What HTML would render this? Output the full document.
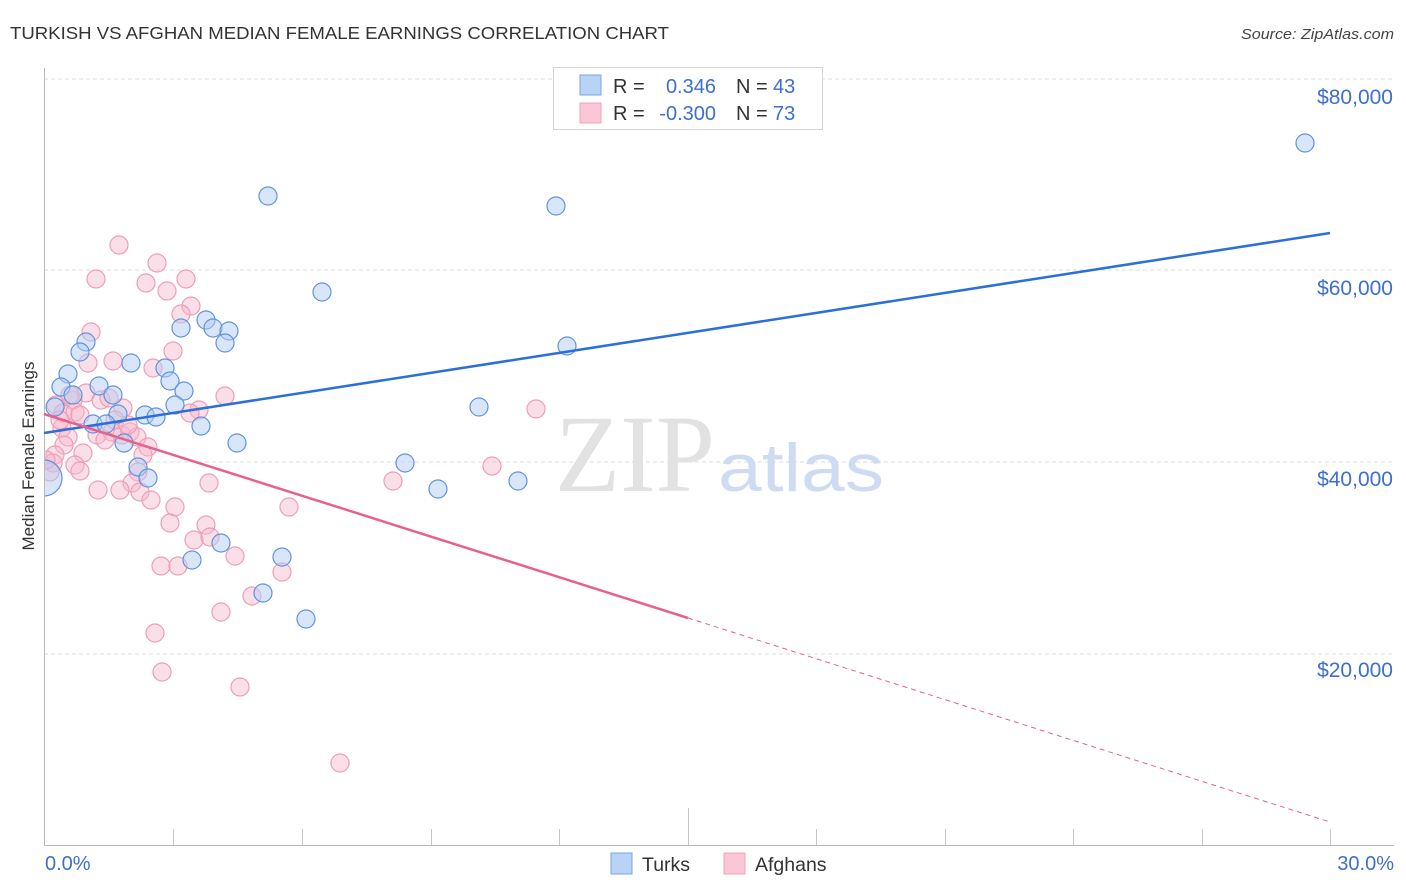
<!DOCTYPE html>
<html>
<head>
<meta charset="utf-8">
<style>
html,body{margin:0;padding:0;background:#fff;}
svg{display:block;}
text{font-family:"Liberation Sans",sans-serif;}
</style>
</head>
<body>
<svg width="1406" height="892" viewBox="0 0 1406 892" xmlns="http://www.w3.org/2000/svg">
<defs>
<clipPath id="plot"><rect x="45" y="60" width="1360" height="785"/></clipPath>
</defs>
<rect width="1406" height="892" fill="#fff"/>
<text x="10" y="39" font-size="17.5" fill="#333" textLength="659" lengthAdjust="spacingAndGlyphs">TURKISH VS AFGHAN MEDIAN FEMALE EARNINGS CORRELATION CHART</text>
<text x="1394" y="39" font-size="15" fill="#444" font-style="italic" text-anchor="end" textLength="153" lengthAdjust="spacingAndGlyphs">Source: ZipAtlas.com</text>
<g stroke="#dcdcdc" stroke-width="1" stroke-dasharray="4,3">
<line x1="44" y1="79" x2="1394" y2="79"/>
<line x1="44" y1="270" x2="1394" y2="270"/>
<line x1="44" y1="462" x2="1394" y2="462"/>
<line x1="44" y1="654" x2="1394" y2="654"/>
</g>
<text x="555" y="491" font-size="110" fill="#e2e2e2" textLength="160" lengthAdjust="spacingAndGlyphs" style="font-family:'Liberation Serif',serif">ZIP</text>
<text x="718" y="491" font-size="68" fill="#cddcf3" textLength="166" lengthAdjust="spacingAndGlyphs">atlas</text>
<line x1="44.5" y1="68" x2="44.5" y2="845" stroke="#bbb" stroke-width="1"/>
<line x1="44" y1="845.5" x2="1394" y2="845.5" stroke="#bbb" stroke-width="1"/>
<g stroke="#c8c8c8" stroke-width="1">
<line x1="173.5" y1="829" x2="173.5" y2="845"/>
<line x1="302.5" y1="829" x2="302.5" y2="845"/>
<line x1="431.5" y1="829" x2="431.5" y2="845"/>
<line x1="559.5" y1="829" x2="559.5" y2="845"/>
<line x1="688.5" y1="808" x2="688.5" y2="845"/>
<line x1="816.5" y1="829" x2="816.5" y2="845"/>
<line x1="945.5" y1="829" x2="945.5" y2="845"/>
<line x1="1073.5" y1="829" x2="1073.5" y2="845"/>
<line x1="1202.5" y1="829" x2="1202.5" y2="845"/>
<line x1="1330.5" y1="829" x2="1330.5" y2="845"/>
</g>
<g font-size="21" fill="#3d6fcf" text-anchor="end">
<text x="1393" y="104">$80,000</text>
<text x="1393" y="295">$60,000</text>
<text x="1393" y="486">$40,000</text>
<text x="1393" y="677">$20,000</text>
</g>
<text x="45" y="870" font-size="20" fill="#3d6fcf">0.0%</text>
<text x="1394" y="870" font-size="20" fill="#3d6fcf" text-anchor="end">30.0%</text>
<text transform="translate(34,456) rotate(-90)" font-size="17" fill="#333" text-anchor="middle">Median Female Earnings</text>
<g clip-path="url(#plot)">
<g fill="#f7b9cb" fill-opacity="0.45" stroke="#ee9db6" stroke-width="1.2">
<circle cx="119" cy="245" r="9"/>
<circle cx="157" cy="263" r="9"/>
<circle cx="96" cy="279" r="9"/>
<circle cx="146" cy="283" r="9"/>
<circle cx="186" cy="279" r="9"/>
<circle cx="167" cy="291" r="9"/>
<circle cx="191" cy="306" r="9"/>
<circle cx="181" cy="314" r="9"/>
<circle cx="91" cy="332" r="9"/>
<circle cx="173" cy="351" r="9"/>
<circle cx="88" cy="363" r="9"/>
<circle cx="113" cy="361" r="9"/>
<circle cx="153" cy="368" r="9"/>
<circle cx="225" cy="396" r="9"/>
<circle cx="86" cy="393" r="9"/>
<circle cx="101" cy="400" r="9"/>
<circle cx="109" cy="398" r="9"/>
<circle cx="123" cy="408" r="9"/>
<circle cx="56" cy="405" r="9"/>
<circle cx="73" cy="400" r="9"/>
<circle cx="199" cy="410" r="9"/>
<circle cx="190" cy="413" r="9"/>
<circle cx="63" cy="413" r="9"/>
<circle cx="75" cy="412" r="9"/>
<circle cx="80" cy="415" r="9"/>
<circle cx="62" cy="428" r="9"/>
<circle cx="68" cy="437" r="9"/>
<circle cx="64" cy="445" r="9"/>
<circle cx="97" cy="435" r="9"/>
<circle cx="112" cy="432" r="9"/>
<circle cx="122" cy="435" r="9"/>
<circle cx="130" cy="432" r="9"/>
<circle cx="137" cy="437" r="9"/>
<circle cx="148" cy="447" r="9"/>
<circle cx="83" cy="453" r="9"/>
<circle cx="55" cy="455" r="9"/>
<circle cx="53" cy="463" r="9"/>
<circle cx="50" cy="472" r="9"/>
<circle cx="75" cy="465" r="9"/>
<circle cx="80" cy="471" r="9"/>
<circle cx="138" cy="472" r="9"/>
<circle cx="132" cy="483" r="9"/>
<circle cx="98" cy="490" r="9"/>
<circle cx="120" cy="490" r="9"/>
<circle cx="140" cy="492" r="9"/>
<circle cx="151" cy="500" r="9"/>
<circle cx="175" cy="507" r="9"/>
<circle cx="170" cy="523" r="9"/>
<circle cx="209" cy="483" r="9"/>
<circle cx="206" cy="525" r="9"/>
<circle cx="194" cy="540" r="9"/>
<circle cx="210" cy="537" r="9"/>
<circle cx="235" cy="556" r="9"/>
<circle cx="161" cy="566" r="9"/>
<circle cx="178" cy="566" r="9"/>
<circle cx="536" cy="409" r="9"/>
<circle cx="492" cy="466" r="9"/>
<circle cx="393" cy="481" r="9"/>
<circle cx="289" cy="507" r="9"/>
<circle cx="282" cy="572" r="9"/>
<circle cx="252" cy="596" r="9"/>
<circle cx="221" cy="612" r="9"/>
<circle cx="155" cy="633" r="9"/>
<circle cx="162" cy="672" r="9"/>
<circle cx="240" cy="687" r="9"/>
<circle cx="340" cy="763" r="9"/>
<circle cx="60" cy="420" r="9"/>
<circle cx="115" cy="420" r="9"/>
<circle cx="105" cy="440" r="9"/>
<circle cx="46" cy="460" r="9"/>
<circle cx="128" cy="425" r="9"/>
<circle cx="143" cy="455" r="9"/>
<circle cx="70" cy="395" r="9"/>
</g>
<g fill="#b3cdf3" fill-opacity="0.5" stroke="#5f93e0" stroke-width="1.2">
<circle cx="44" cy="478" r="18"/>
<circle cx="1305" cy="143" r="9"/>
<circle cx="268" cy="196" r="9"/>
<circle cx="556" cy="206" r="9"/>
<circle cx="322" cy="292" r="9"/>
<circle cx="567" cy="346" r="9"/>
<circle cx="206" cy="320" r="9"/>
<circle cx="213" cy="328" r="9"/>
<circle cx="229" cy="331" r="9"/>
<circle cx="225" cy="343" r="9"/>
<circle cx="181" cy="328" r="9"/>
<circle cx="86" cy="342" r="9"/>
<circle cx="80" cy="352" r="9"/>
<circle cx="131" cy="363" r="9"/>
<circle cx="165" cy="368" r="9"/>
<circle cx="170" cy="381" r="9"/>
<circle cx="68" cy="374" r="9"/>
<circle cx="61" cy="387" r="9"/>
<circle cx="99" cy="386" r="9"/>
<circle cx="184" cy="391" r="9"/>
<circle cx="73" cy="395" r="9"/>
<circle cx="113" cy="395" r="9"/>
<circle cx="175" cy="405" r="9"/>
<circle cx="55" cy="407" r="9"/>
<circle cx="145" cy="415" r="9"/>
<circle cx="156" cy="417" r="9"/>
<circle cx="118" cy="414" r="9"/>
<circle cx="93" cy="424" r="9"/>
<circle cx="106" cy="424" r="9"/>
<circle cx="201" cy="426" r="9"/>
<circle cx="124" cy="443" r="9"/>
<circle cx="237" cy="443" r="9"/>
<circle cx="138" cy="467" r="9"/>
<circle cx="148" cy="478" r="9"/>
<circle cx="479" cy="407" r="9"/>
<circle cx="405" cy="463" r="9"/>
<circle cx="438" cy="489" r="9"/>
<circle cx="518" cy="481" r="9"/>
<circle cx="221" cy="543" r="9"/>
<circle cx="192" cy="560" r="9"/>
<circle cx="282" cy="557" r="9"/>
<circle cx="263" cy="593" r="9"/>
<circle cx="306" cy="619" r="9"/>
</g>
</g>
<line x1="44" y1="433" x2="1330" y2="233" stroke="#2c6fd8" stroke-width="2.5"/>
<line x1="44" y1="414" x2="688" y2="618" stroke="#e7618e" stroke-width="2.5"/>
<line x1="688" y1="618" x2="1330" y2="822" stroke="#e7618e" stroke-width="1" stroke-dasharray="5,4"/>
<rect x="553.5" y="67.5" width="269" height="62" fill="#fff" stroke="#d6d6d6" stroke-width="1"/>
<rect x="580" y="75" width="21" height="20" fill="#b8d3f6" stroke="#7aa6e6" stroke-width="1"/>
<rect x="580" y="103" width="21" height="20" fill="#fbc6d5" stroke="#f0a3bb" stroke-width="1"/>
<g font-size="20">
<text x="613" y="93" fill="#333">R =</text>
<text x="716" y="93" fill="#3b6fd0" text-anchor="end">0.346</text>
<text x="736" y="93" fill="#333">N =</text>
<text x="773" y="93" fill="#3b6fd0">43</text>
<text x="613" y="120" fill="#333">R =</text>
<text x="716" y="120" fill="#3b6fd0" text-anchor="end">-0.300</text>
<text x="736" y="120" fill="#333">N =</text>
<text x="773" y="120" fill="#3b6fd0">73</text>
</g>
<rect x="611" y="853" width="21" height="21" fill="#b8d3f6" stroke="#7aa6e6" stroke-width="1"/>
<text x="642" y="871" font-size="19.5" fill="#333">Turks</text>
<rect x="724" y="853" width="21" height="21" fill="#fbc6d5" stroke="#f0a3bb" stroke-width="1"/>
<text x="755" y="871" font-size="19.5" fill="#333">Afghans</text>
</svg>
</body>
</html>
